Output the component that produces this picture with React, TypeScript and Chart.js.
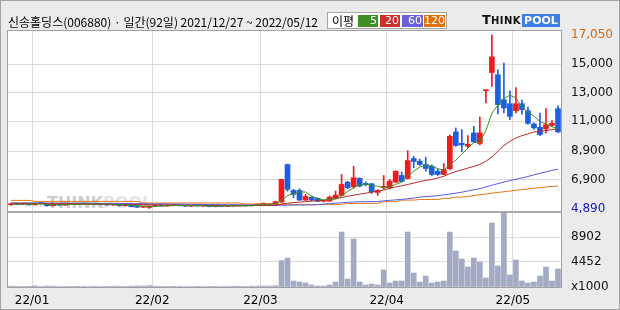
import React, { useEffect, useRef } from "react";
import { Chart, registerables } from "chart.js";

Chart.register(...registerables);

// ---- categories (trading days) ----
const dec21 = ["2021/12/27", "2021/12/28", "2021/12/29", "2021/12/30"];
const jan22 = ["2022/01/03", "2022/01/04", "2022/01/05", "2022/01/06", "2022/01/07", "2022/01/10", "2022/01/11", "2022/01/12", "2022/01/13", "2022/01/14", "2022/01/17", "2022/01/18", "2022/01/19", "2022/01/20", "2022/01/21", "2022/01/24", "2022/01/25", "2022/01/26", "2022/01/27", "2022/01/28"];
const feb22 = ["2022/02/03", "2022/02/04", "2022/02/07", "2022/02/08", "2022/02/09", "2022/02/10", "2022/02/11", "2022/02/14", "2022/02/15", "2022/02/16", "2022/02/17", "2022/02/18", "2022/02/21", "2022/02/22", "2022/02/23", "2022/02/24", "2022/02/25", "2022/02/28"];
const mar22 = ["2022/03/02", "2022/03/03", "2022/03/04", "2022/03/07", "2022/03/08", "2022/03/10", "2022/03/11", "2022/03/14", "2022/03/15", "2022/03/16", "2022/03/17", "2022/03/18", "2022/03/21", "2022/03/22", "2022/03/23", "2022/03/24", "2022/03/25", "2022/03/28", "2022/03/29", "2022/03/30", "2022/03/31"];
const apr22 = ["2022/04/01", "2022/04/04", "2022/04/05", "2022/04/06", "2022/04/07", "2022/04/08", "2022/04/11", "2022/04/12", "2022/04/13", "2022/04/14", "2022/04/15", "2022/04/18", "2022/04/19", "2022/04/20", "2022/04/21", "2022/04/22", "2022/04/25", "2022/04/26", "2022/04/27", "2022/04/28", "2022/04/29"];
const may22 = ["2022/05/02", "2022/05/03", "2022/05/04", "2022/05/06", "2022/05/09", "2022/05/10", "2022/05/11", "2022/05/12"];
const categories = [...dec21, ...jan22, ...feb22, ...mar22, ...apr22, ...may22];

// ---- OHLC ----
const opens = [
  5150, 5220, 5180, 5200, 5150, 5240, 5230, 5080, 5180, 5120,
  5200, 5170, 5250, 5190, 5230, 5160, 5210, 5130, 5180, 5080,
  5140, 5020, 4980, 4960, 5060, 5100, 5070, 5110, 5140, 5080,
  5050, 5100, 5060, 5090, 5020, 5070, 5030, 5080, 5060, 5110,
  5070, 5130, 5190, 5120, 5105, 5340, 7972, 6154, 6154, 5476,
  5685, 5594, 5390, 5406, 5573, 5804, 6734, 6413, 7000, 6643,
  6622, 6014, 6370, 6343, 6734, 7203, 6993, 8392, 8203, 7972,
  7853, 7503, 7273, 7672, 10259, 9462, 9252, 10189, 9450, 13150,
  14427, 14266, 12517, 12238, 11748, 12238, 11748, 10818, 10580, 10469,
  10720, 11888,
];
const highs = [
  5240, 5250, 5240, 5230, 5260, 5280, 5250, 5200, 5220, 5210,
  5230, 5260, 5270, 5240, 5250, 5220, 5230, 5200, 5190, 5150,
  5150, 5060, 5050, 5080, 5120, 5150, 5130, 5160, 5150, 5120,
  5110, 5130, 5100, 5110, 5080, 5090, 5100, 5110, 5120, 5130,
  5140, 5200, 5260, 5230, 5400, 6923, 8000, 6224, 6273, 5874,
  5720, 5640, 5450, 5755, 6105, 7273, 6790, 7853, 7050, 6760,
  6650, 6200, 7203, 6923, 7530, 7434, 8951, 8552, 8350, 8483,
  7950, 7650, 8042, 10050, 10538, 10420, 10000, 10650, 11308, 13210,
  17050, 14615, 15083, 13147, 13378, 12500, 12000, 10900, 11587, 11888,
  11050, 12098,
];
const lows = [
  5100, 5150, 5150, 5130, 5130, 5200, 5050, 5060, 5100, 5100,
  5150, 5160, 5180, 5170, 5150, 5140, 5120, 5100, 5060, 5050,
  5000, 4950, 4940, 4890, 5030, 5050, 5040, 5080, 5060, 5030,
  5020, 5040, 5020, 5000, 5000, 5010, 5020, 5040, 5050, 5050,
  5060, 5120, 5160, 5100, 5090, 5294, 6105, 5643, 5450, 5450,
  5420, 5360, 5350, 5380, 5550, 5780, 6250, 6300, 6400, 6480,
  5944, 5804, 6224, 6250, 6700, 6750, 6950, 7741, 7900, 7503,
  7200, 7200, 7250, 7600, 9250, 8860, 9150, 9500, 9350, 12287,
  13448, 11517, 11587, 11119, 11587, 11500, 10800, 10450, 10000, 10189,
  10650, 10200,
];
const closes = [
  5220, 5180, 5200, 5150, 5240, 5230, 5080, 5180, 5120, 5200,
  5170, 5250, 5190, 5230, 5160, 5210, 5130, 5180, 5080, 5140,
  5020, 4980, 5040, 5060, 5100, 5070, 5110, 5140, 5080, 5050,
  5100, 5060, 5090, 5020, 5070, 5030, 5080, 5060, 5110, 5070,
  5130, 5190, 5230, 5200, 5364, 6923, 6224, 5874, 5476, 5734,
  5476, 5385, 5400, 5685, 5825, 6573, 6343, 7042, 6455, 6552,
  6063, 6154, 6385, 6804, 7503, 6783, 8252, 8182, 7972, 7692,
  7273, 7273, 7622, 9951, 9301, 9350, 9392, 9560, 10189, 13210,
  15524, 12168, 11937, 11350, 12238, 11818, 10860, 10538, 10070, 10769,
  10860, 10259,
];

// ---- volume (x1000) ----
const volumes = [
  150, 120, 100, 130, 200, 110, 180, 140, 90, 120,
  100, 130, 110, 90, 140, 100, 120, 150, 130, 110,
  160, 200, 180, 250, 140, 120, 100, 130, 110, 90,
  100, 120, 80, 110, 130, 90, 100, 140, 120, 110,
  130, 160, 180, 178, 230, 4690, 5160, 1070, 890, 710,
  356, 178, 178, 356, 890, 9790, 1424, 8544, 890, 356,
  534, 356, 3026, 710, 1070, 1070, 9790, 2492, 890, 1958,
  710, 890, 1070, 9790, 6408, 4984, 3560, 5160, 4450, 1602,
  11392, 3738, 13353, 2136, 4806, 1070, 710, 890, 1958, 3560,
  1070, 3204,
];

// ---- moving averages ----
const ma5 = [
  5180, 5190, 5200, 5195, 5200, 5210, 5180, 5170, 5160, 5160,
  5170, 5180, 5190, 5200, 5200, 5190, 5190, 5170, 5150, 5140,
  5120, 5090, 5050, 5040, 5040, 5060, 5070, 5090, 5100, 5090,
  5090, 5090, 5080, 5070, 5060, 5060, 5060, 5060, 5070, 5080,
  5090, 5120, 5160, 5190, 5220, 5460, 5790, 5920, 6050, 6040,
  5750, 5590, 5490, 5540, 5560, 5770, 6080, 6350, 6560, 6600,
  6490, 6450, 6320, 6390, 6580, 6730, 7150, 7500, 7800, 7900,
  7870, 7680, 7570, 7960, 8280, 8700, 9120, 9510, 9560, 10340,
  11570, 12130, 12610, 12840, 12640, 12010, 11650, 11360, 10990, 10810,
  10620, 10500,
];
const ma20 = [
  5250, 5248, 5245, 5243, 5240, 5238, 5235, 5230, 5225, 5222,
  5220, 5215, 5210, 5205, 5200, 5198, 5195, 5190, 5185, 5180,
  5175, 5170, 5160, 5150, 5140, 5135, 5130, 5125, 5120, 5115,
  5110, 5108, 5105, 5100, 5098, 5095, 5092, 5090, 5090, 5090,
  5092, 5095, 5100, 5105, 5120, 5200, 5260, 5300, 5330, 5370,
  5400, 5430, 5460, 5520, 5580, 5660, 5740, 5820, 5890, 5960,
  6030, 6100, 6180, 6300, 6400, 6480, 6570, 6670, 6770, 6860,
  6930, 7030, 7140, 7330, 7480, 7600, 7720, 7840, 7980, 8200,
  8500, 8900, 9300, 9600, 9830, 10000, 10120, 10250, 10300, 10350,
  10420, 10500,
];
const ma60 = [
  5280, 5278, 5276, 5274, 5272, 5270, 5268, 5266, 5264, 5262,
  5260, 5257, 5254, 5251, 5248, 5245, 5242, 5239, 5236, 5233,
  5230, 5225, 5220, 5215, 5210, 5205, 5200, 5195, 5190, 5185,
  5180, 5175, 5170, 5165, 5160, 5155, 5150, 5145, 5140, 5135,
  5130, 5125, 5120, 5110, 5110, 5115, 5120, 5125, 5130, 5135,
  5140, 5150, 5200, 5230, 5260, 5290, 5320, 5340, 5360, 5365,
  5370, 5380, 5420, 5460, 5490, 5530, 5570, 5620, 5680, 5720,
  5750, 5790, 5840, 5900, 5960, 6030, 6120, 6200, 6280, 6400,
  6520, 6630, 6740, 6840, 6940, 7030, 7130, 7250, 7350, 7450,
  7560, 7640,
];
const ma120 = [
  5455, 5455, 5455, 5455, 5385, 5385, 5385, 5385, 5385, 5385,
  5385, 5385, 5385, 5385, 5385, 5385, 5385, 5385, 5385, 5385,
  5385, 5385, 5270, 5270, 5270, 5270, 5270, 5270, 5270, 5270,
  5270, 5270, 5270, 5270, 5270, 5270, 5270, 5270, 5270, 5200,
  5200, 5200, 5200, 5200, 5175, 5175, 5175, 5175, 5175, 5175,
  5175, 5175, 5175, 5175, 5175, 5175, 5245, 5245, 5245, 5245,
  5245, 5245, 5364, 5364, 5364, 5476, 5476, 5476, 5520, 5520,
  5520, 5520, 5594, 5594, 5685, 5685, 5734, 5790, 5850, 5900,
  5960, 6010, 6060, 6110, 6160, 6210, 6260, 6300, 6350, 6400,
  6430, 6460,
];

// ---- axis tick values ----
const priceTicks = [4890, 6900, 8900, 11000, 13000, 15000, 17050];
const volumeTicks = [0, 4452, 8902];
const maLegend = ["5", "20", "60", "120"];

const RED = "#f21a1a";
const BLUE = "#1c60e2";
const VOL = "#a2abc3";
const MA_COLORS = ["#3f8f22", "#b8282a", "#5c5ae0", "#e07818"];
const LEGEND_COLORS = ["#3f8f25", "#c8322a", "#6a60dc", "#e0720a"];

const framePlugin = {
  id: "frame",
  beforeDraw(chart: any) {
    const { ctx, chartArea: a } = chart;
    ctx.save();
    ctx.fillStyle = "#ffffff";
    ctx.fillRect(a.left, a.top, a.right - a.left, a.bottom - a.top);
    ctx.restore();
  },
  beforeDatasetsDraw(chart: any) {
    const { ctx } = chart;
    ctx.save();
    ctx.font = '9px "DejaVu Sans"';
    ctx.fillStyle = "#d6d6d6";
    ctx.fillText("www.", 24, 207);
    ctx.font = 'bold 16px "DejaVu Sans"';
    ctx.fillStyle = "#cdcdcd";
    ctx.fillText("THINK", 47, 208);
    const w = ctx.measureText("THINK").width;
    ctx.fillStyle = "#e3e3e3";
    ctx.fillText("POOL", 47 + w, 208);
    ctx.restore();
  },
  afterDraw(chart: any) {
    const { ctx, chartArea: a, scales } = chart;
    ctx.save();
    ctx.strokeStyle = "#a0a0a0";
    ctx.lineWidth = 1;
    ctx.strokeRect(a.left - 0.5, a.top - 0.5, a.right - a.left + 1, a.bottom - a.top + 1);
    const sep = Math.round(scales.yv.top);
    ctx.lineWidth = 2;
    ctx.strokeStyle = "#a8a8a8";
    ctx.beginPath();
    ctx.moveTo(a.left, sep);
    ctx.lineTo(a.right, sep);
    ctx.stroke();
    ctx.restore();
  },
};

export default function App() {
  const ref = useRef<HTMLCanvasElement | null>(null);

  useEffect(() => {
    if (!ref.current) return;
    const monthStarts: number[] = [];
    categories.forEach((c, i) => {
      if (i > 0 && c.slice(0, 7) !== categories[i - 1].slice(0, 7)) monthStarts.push(i);
    });
    const monthLabels = monthStarts.map((i) => categories[i].slice(2, 7));
    const candleColors = categories.map((_, i) => (closes[i] >= opens[i] ? RED : BLUE));
    const maSeries = [ma5, ma20, ma60, ma120];

    const chart = new Chart(ref.current, {
      type: "bar",
      data: {
        labels: categories,
        datasets: [
          ...maSeries.map((d, k) => ({
            type: "line" as const,
            data: d,
            yAxisID: "y",
            borderColor: MA_COLORS[k],
            borderWidth: 1,
            pointRadius: 0,
            tension: 0,
            fill: false,
            order: 0,
          })),
          {
            type: "bar" as const,
            data: categories.map((_, i) => [opens[i], closes[i]]),
            yAxisID: "y",
            backgroundColor: candleColors,
            barThickness: 5,
            minBarLength: 1,
            grouped: false,
            order: 1,
          },
          {
            type: "bar" as const,
            data: categories.map((_, i) => [lows[i], highs[i]]),
            yAxisID: "y",
            backgroundColor: candleColors,
            barThickness: 1,
            grouped: false,
            order: 2,
          },
          {
            type: "bar" as const,
            data: volumes,
            yAxisID: "yv",
            backgroundColor: VOL,
            barThickness: 5,
            grouped: false,
            order: 3,
          },
        ] as any,
      },
      options: {
        responsive: false,
        animation: false,
        devicePixelRatio: 1,
        layout: { padding: { left: 8, top: 31, right: 0, bottom: 0 } },
        plugins: { legend: { display: false }, tooltip: { enabled: false } },
        scales: {
          x: {
            type: "category",
            offset: true,
            grid: { color: "#dcdcdc", lineWidth: 1, offset: false, drawTicks: false },
            border: { display: false },
            afterBuildTicks: (s: any) => {
              s.ticks = monthStarts.map((i) => ({ value: i - 0.5 }));
            },
            afterFit: (s: any) => {
              s.height = 23;
            },
            ticks: {
              autoSkip: false,
              maxRotation: 0,
              padding: 7,
              color: "#000",
              font: { family: "DejaVu Sans", size: 12 },
              callback: (_v: any, idx: number) => monthLabels[idx],
            },
          },
          y: {
            type: "linear",
            position: "right",
            stack: "panes",
            stackWeight: 181,
            min: 4640,
            max: 17340,
            afterBuildTicks: (s: any) => {
              s.ticks = priceTicks.map((v) => ({ value: v }));
            },
            afterFit: (s: any) => {
              s.width = 59;
            },
            grid: {
              drawTicks: false,
              color: (ctx: any) =>
                ctx.tick && (ctx.tick.value === priceTicks[0] || ctx.tick.value === priceTicks[priceTicks.length - 1])
                  ? "rgba(0,0,0,0)"
                  : "#dcdcdc",
            },
            border: { display: false },
            ticks: {
              autoSkip: false,
              padding: 10,
              font: { family: "DejaVu Sans", size: 12 },
              color: (ctx: any) =>
                ctx.tick && ctx.tick.value === priceTicks[priceTicks.length - 1]
                  ? "#d8680c"
                  : ctx.tick && ctx.tick.value === priceTicks[0]
                  ? "#1818c8"
                  : "#111",
              callback: (v: any) => Number(v).toLocaleString("en-US"),
            },
          },
          yv: {
            type: "linear",
            position: "right",
            stack: "panes",
            stackWeight: 75,
            min: 0,
            max: 13353,
            afterBuildTicks: (s: any) => {
              s.ticks = volumeTicks.map((v) => ({ value: v }));
            },
            afterFit: (s: any) => {
              s.width = 59;
            },
            grid: {
              drawTicks: false,
              color: (ctx: any) => (ctx.tick && ctx.tick.value === 0 ? "rgba(0,0,0,0)" : "#dcdcdc"),
            },
            border: { display: false },
            ticks: {
              autoSkip: false,
              padding: 10,
              color: "#111",
              font: { family: "DejaVu Sans", size: 12 },
              callback: (v: any) => (Number(v) === 0 ? "x1000" : String(v)),
            },
          },
        },
      } as any,
      plugins: [framePlugin],
    });
    return () => chart.destroy();
  }, []);

  const cellLefts = [358, 380, 402, 424];
  const cellWidths = [20, 20, 21, 21];

  return (
    <div
      style={{
        position: "fixed",
        left: 0,
        top: 0,
        width: 620,
        height: 310,
        background: "#ebebeb",
        overflow: "hidden",
      }}
    >
      <canvas
        ref={ref}
        width={620}
        height={310}
        style={{ position: "absolute", left: 0, top: 0, width: 620, height: 310 }}
      />
      <div
        style={{
          position: "absolute",
          left: 8,
          top: 14,
          fontFamily: '"Noto Sans CJK KR", sans-serif',
          fontSize: 12,
          lineHeight: "16px",
          color: "#000",
          whiteSpace: "nowrap",
        }}
      >
        신송홀딩스(006880) · 일간(92일) 2021/12/27 ~ 2022/05/12
      </div>
      <div
        style={{
          position: "absolute",
          left: 327,
          top: 12,
          width: 120,
          height: 17,
          boxSizing: "border-box",
          background: "#fff",
          border: "1px solid #a6a6a6",
        }}
      />
      <div
        style={{
          position: "absolute",
          left: 332,
          top: 13,
          fontFamily: '"Noto Sans CJK KR", sans-serif',
          fontSize: 12,
          lineHeight: "15px",
          color: "#000",
          whiteSpace: "nowrap",
        }}
      >
        이평
      </div>
      {maLegend.map((t, k) => (
        <div
          key={t}
          style={{
            position: "absolute",
            left: cellLefts[k],
            top: 15,
            width: cellWidths[k],
            height: 12,
            background: LEGEND_COLORS[k],
            color: "#fff",
            fontFamily: '"DejaVu Sans", sans-serif',
            fontSize: 11,
            lineHeight: "12px",
            textAlign: "right",
            paddingRight: 1,
            boxSizing: "border-box",
          }}
        >
          {t}
        </div>
      ))}
      <div
        style={{
          position: "absolute",
          left: 482,
          top: 13,
          height: 14,
          fontFamily: '"DejaVu Sans", sans-serif',
          fontWeight: "bold",
          color: "#111",
          whiteSpace: "nowrap",
          lineHeight: "14px",
          display: "flex",
          alignItems: "flex-end",
        }}
      >
        <span style={{ fontSize: 13, lineHeight: "14px" }}>T</span>
        <span style={{ fontSize: 10, lineHeight: "12px", letterSpacing: 0.5 }}>HINK</span>
        <span
          style={{
            marginLeft: 1,
            background: "#3d7ee6",
            color: "#fff",
            fontSize: 11,
            lineHeight: "13px",
            padding: "0 2px",
            height: 13,
          }}
        >
          POOL
        </span>
      </div>
      <div
        style={{
          position: "absolute",
          left: 0,
          top: 0,
          width: 620,
          height: 310,
          boxSizing: "border-box",
          border: "1px solid #a3a3a3",
          pointerEvents: "none",
        }}
      />
    </div>
  );
}
